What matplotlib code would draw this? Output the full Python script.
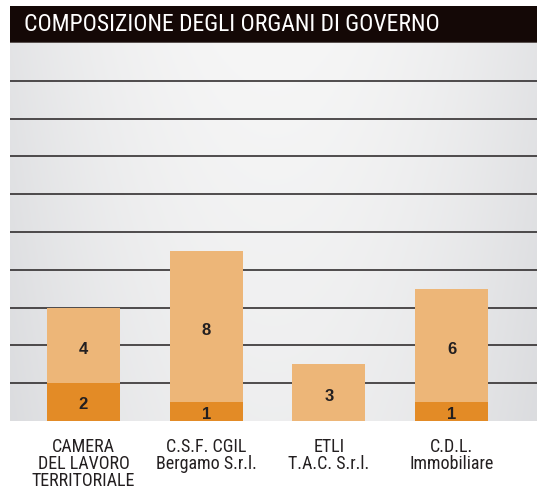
import numpy as np
import matplotlib.pyplot as plt

categories = ["CAMERA\nDEL LAVORO\nTERRITORIALE", "C.S.F. CGIL\nBergamo S.r.l.",
              "ETLI\nT.A.C. S.r.l.", "C.D.L.\nImmobiliare"]
bottom_vals = [2, 1, 0, 1]
top_vals = [4, 8, 3, 6]

title = "COMPOSIZIONE DEGLI ORGANI DI GOVERNO"
cond = ["Roboto Condensed", "DejaVu Sans"]

fig = plt.figure(figsize=(5.37, 4.92), dpi=100)
fig.patch.set_facecolor("white")

# title bar
tax = fig.add_axes([10 / 537, 1 - 43 / 492, 1 - 10 / 537, 37 / 492])
tax.set_facecolor("#140806")
tax.set_xticks([])
tax.set_yticks([])
for s in tax.spines.values():
    s.set_visible(False)
tax.axhline(0, color="#5a5250", lw=1.5)
tax.text(14 / 527, 0.5, title, color="white", fontsize=17,
         family=cond, va="center", ha="left", transform=tax.transAxes)

ax = fig.add_axes([10 / 537, 71 / 492, 1 - 10 / 537, 378 / 492])
x = np.arange(len(categories))
xlim = (-0.599, 3.696)
ylim = (0, 20)

# background gradient: lighter at top centre, darker at sides
gx = np.linspace(-1, 1, 300)
gy = np.linspace(0, 1, 200)
GX, GY = np.meshgrid(gx, gy)
light = 1 - 0.45 * GX ** 2 - 0.2 * GY
c0 = np.array([0xd9, 0xda, 0xdd]) / 255
c1 = np.array([0xf6, 0xf6, 0xf6]) / 255
light = np.clip((light - 0.3) / 0.7, 0, 1)
img = c0 + (c1 - c0) * light[..., None]
ax.imshow(img, extent=[xlim[0], xlim[1], ylim[0], ylim[1]], aspect="auto",
          origin="upper", zorder=0)

for yv in range(2, 20, 2):
    ax.axhline(yv, color="#231f20", lw=1.1, zorder=1)

w = 0.595
ax.bar(x, bottom_vals, width=w, color="#e38b26", zorder=2)
ax.bar(x, top_vals, width=w, bottom=bottom_vals, color="#edb678", zorder=2)

for i in range(len(categories)):
    if bottom_vals[i] > 0:
        ax.text(x[i], bottom_vals[i] / 2 - 0.15, str(bottom_vals[i]),
                ha="center", va="center", fontsize=12, fontweight="bold",
                color="#231f20", zorder=3, family="Liberation Sans")
    ax.text(x[i], bottom_vals[i] + top_vals[i] / 2 - 0.2, str(top_vals[i]),
            ha="center", va="center", fontsize=12, fontweight="bold",
            color="#231f20", zorder=3, family="Liberation Sans")

ax.set_xlim(*xlim)
ax.set_ylim(*ylim)
ax.set_xticks(x)
ax.set_xticklabels(categories, fontsize=13, color="#231f20",
                   family=cond, linespacing=0.95)
ax.tick_params(axis="x", length=0, pad=12)
ax.set_yticks([])
for s in ax.spines.values():
    s.set_visible(False)

fig.savefig("out.png", dpi=100)
